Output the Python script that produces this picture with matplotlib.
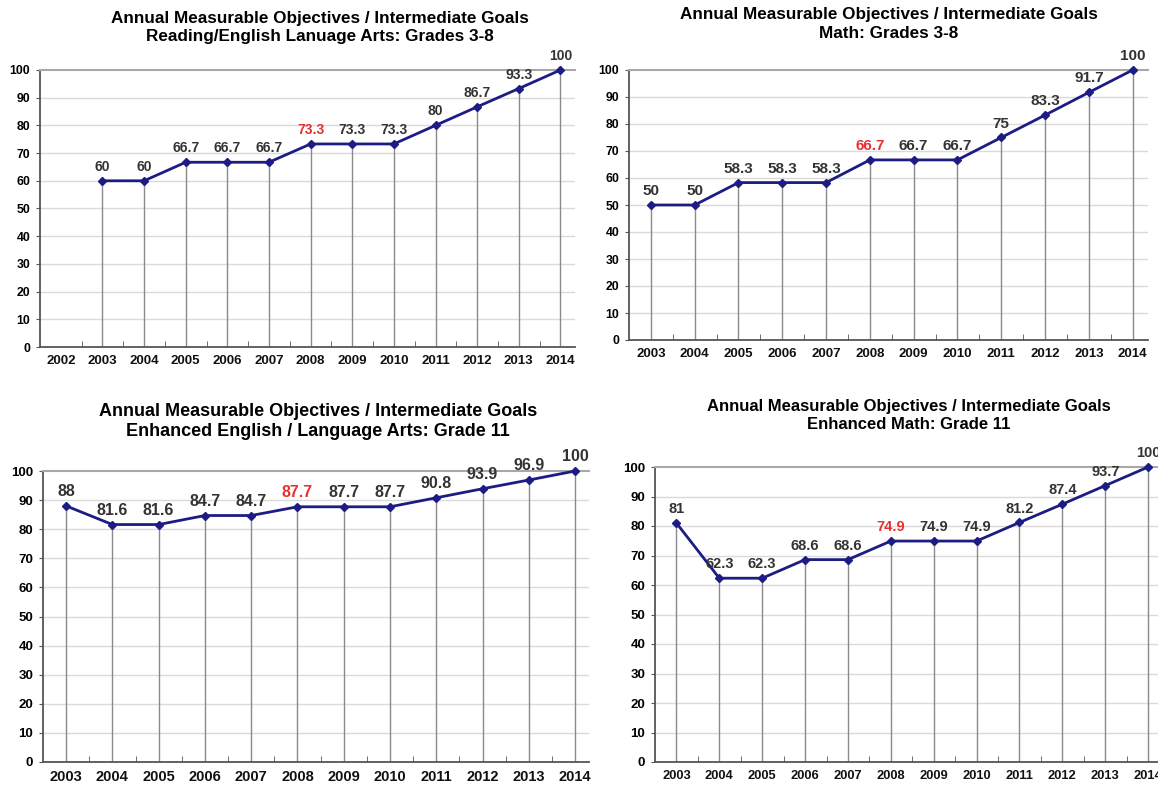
import matplotlib.pyplot as plt
import numpy as np

plt.rcParams['font.family'] = ['Liberation Sans', 'DejaVu Sans']

years = [2003, 2004, 2005, 2006, 2007, 2008, 2009, 2010, 2011, 2012, 2013, 2014]
years_rla = [2002] + years

rla_38 = [60, 60, 66.7, 66.7, 66.7, 73.3, 73.3, 73.3, 80, 86.7, 93.3, 100]
math_38 = [50, 50, 58.3, 58.3, 58.3, 66.7, 66.7, 66.7, 75, 83.3, 91.7, 100]
ela_11 = [88, 81.6, 81.6, 84.7, 84.7, 87.7, 87.7, 87.7, 90.8, 93.9, 96.9, 100]
math_11 = [81, 62.3, 62.3, 68.6, 68.6, 74.9, 74.9, 74.9, 81.2, 87.4, 93.7, 100]

title_top = 'Annual Measurable Objectives / Intermediate Goals'
subtitles = ['Reading/English Lanuage Arts: Grades 3-8',
             'Math: Grades 3-8',
             'Enhanced English / Language Arts: Grade 11',
             'Enhanced Math: Grade 11']
highlight_year = 2008

W, H = 1158, 791
fig = plt.figure(figsize=(W / 100, H / 100), dpi=100)


def px_axes(left, right, top, bottom):
    return fig.add_axes([left / W, 1 - bottom / H, (right - left) / W, (bottom - top) / H])


def goal_chart(ax, xs, cats, vals, xlim, fs_tick, fs_xtick, fs_lab):
    ax.set_xlim(*xlim)
    ax.set_ylim(0, 100)
    ax.set_yticks(np.arange(0, 101, 10))
    for y in range(10, 100, 10):
        ax.axhline(y, color='#dadada', lw=1, zorder=0)
    # drop lines
    ax.vlines(xs, 0, vals, color='#8a8a8a', lw=1, zorder=1)
    ax.plot(xs, vals, color='#1c1c84', lw=2, marker='D', ms=4.5, zorder=3, clip_on=False)
    for x, v in zip(xs, vals):
        ax.annotate('%g' % v, (x, v), xytext=(0, 5), textcoords='offset points',
                    ha='center', va='bottom', fontsize=fs_lab, fontweight='bold',
                    color='#e83030' if x == highlight_year else '#333333',
                    annotation_clip=False)
    ax.set_xticks(cats)
    ax.set_xticklabels([str(c) for c in cats], fontsize=fs_xtick, fontweight='bold', color='#111111')
    ax.set_xticks(np.arange(cats[0] + 0.5, cats[-1], 1), minor=True)
    ax.tick_params(axis='x', which='major', length=0, pad=6)
    ax.tick_params(axis='x', which='minor', length=4, direction='in', color='#555555')
    ax.tick_params(axis='y', length=3, direction='out', color='#555555', labelsize=fs_tick, pad=4)
    for t in ax.get_yticklabels():
        t.set_fontweight('bold')
    ax.spines['right'].set_visible(False)
    ax.spines['top'].set_color('#a8a8a8')
    ax.spines['top'].set_linewidth(1.5)
    ax.spines['left'].set_color('#555555')
    ax.spines['bottom'].set_color('#555555')
    ax.spines['left'].set_linewidth(1.3)
    ax.spines['bottom'].set_linewidth(1.3)


def titles(cx, y1, y2, sub, fs):
    fig.text(cx / W, 1 - y1 / H, title_top, ha='center', va='center', fontsize=fs, fontweight='bold')
    fig.text(cx / W, 1 - y2 / H, sub, ha='center', va='center', fontsize=fs, fontweight='bold')


ax1 = px_axes(40, 575, 70, 347)
goal_chart(ax1, years, years_rla, rla_38, (2001.5, 2014.35), 8.8, 9.5, 10)
titles(320, 19, 36, subtitles[0], 12.3)

ax2 = px_axes(629, 1148, 70, 340)
goal_chart(ax2, years, years, math_38, (2002.5, 2014.35), 8.8, 9.5, 11)
titles(889, 14, 33, subtitles[1], 12.3)

ax3 = px_axes(43, 589, 471, 762)
goal_chart(ax3, years, years, ela_11, (2002.5, 2014.3), 9.5, 10.5, 11.5)
titles(318, 412, 431, subtitles[2], 13)

ax4 = px_axes(655, 1158, 467, 762)
goal_chart(ax4, years, years, math_11, (2002.5, 2014.23), 9.5, 9.3, 10.5)
titles(909, 406, 425, subtitles[3], 12)

fig.savefig('out.png', dpi=100)
